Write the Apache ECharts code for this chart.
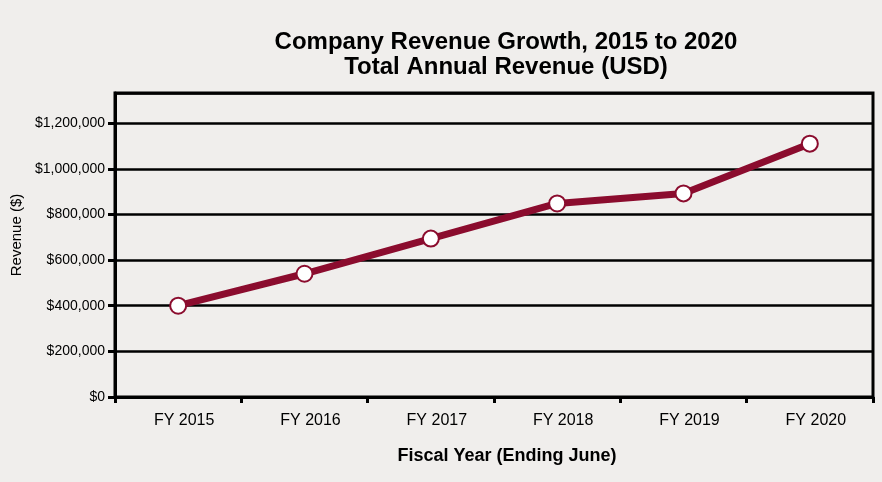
<!DOCTYPE html>
<html>
<head>
<meta charset="utf-8">
<script src="https://cdn.jsdelivr.net/npm/echarts@6/dist/echarts.min.js"></script>
<style>
html,body{margin:0;padding:0;background:#f0eeec;}
#chart{width:882px;height:482px;}
</style>
</head>
<body>
<div id="chart"></div>
<script>
const titleLines = ['Company Revenue Growth, 2015 to 2020', 'Total Annual Revenue (USD)'];
const categories = ['FY 2015', 'FY 2016', 'FY 2017', 'FY 2018', 'FY 2019', 'FY 2020'];
const revenue = [400000, 540000, 694000, 848000, 892000, 1110000];
const yAxisTitle = 'Revenue ($)';
const xAxisTitle = 'Fiscal Year (Ending June)';
const yMin = 0;
const yMax = 1332000;
const yStep = 200000;

const chart = echarts.init(document.getElementById('chart'));
const fmt = v => '$' + v.toLocaleString('en-US');
chart.setOption({
  backgroundColor: '#f0eeec',
  animation: false,
  textStyle: { fontFamily: 'Liberation Sans, Arial, sans-serif' },
  title: {
    text: titleLines.join('\n'),
    left: 506,
    top: 30,
    padding: 0,
    textAlign: 'center',
    textStyle: { fontSize: 24, fontWeight: 'bold', color: '#000', lineHeight: 25 }
  },
  grid: { left: 115, right: 9, top: 93, bottom: 85, show: true, borderColor: '#000', borderWidth: 3, backgroundColor: 'transparent' },
  xAxis: {
    type: 'category',
    data: categories,
    boundaryGap: true,
    name: xAxisTitle,
    nameLocation: 'middle',
    nameGap: 50,
    nameTextStyle: { fontSize: 18, color: '#000', fontWeight: 'bold', padding: [0, 0, 0, 26] },
    axisLine: { lineStyle: { color: '#000', width: 3 } },
    axisTick: { show: true, length: 6, lineStyle: { color: '#000', width: 3 } },
    axisLabel: { fontSize: 16, color: '#000', margin: 16, padding: [0, 0, 0, 12] }
  },
  yAxis: {
    type: 'value',
    min: yMin,
    max: yMax,
    interval: yStep,
    name: yAxisTitle,
    nameLocation: 'middle',
    nameGap: 90,
    nameTextStyle: { fontSize: 15, color: '#000', padding: [0, 0, 0, 20] },
    axisLine: { show: true, lineStyle: { color: '#000', width: 3 } },
    axisTick: { show: true, length: 7, lineStyle: { color: '#000', width: 3 } },
    axisLabel: { fontSize: 14, color: '#000', margin: 10, showMaxLabel: false, formatter: fmt },
    splitLine: { show: true, lineStyle: { color: '#000', width: 2.5 } }
  },
  series: [{
    type: 'line',
    data: revenue,
    symbol: 'circle',
    symbolSize: 16,
    lineStyle: { color: '#8b0c2e', width: 7 },
    itemStyle: { color: '#ffffff', borderColor: '#8b0c2e', borderWidth: 2 },
    z: 5
  }]
});
</script>
</body>
</html>
